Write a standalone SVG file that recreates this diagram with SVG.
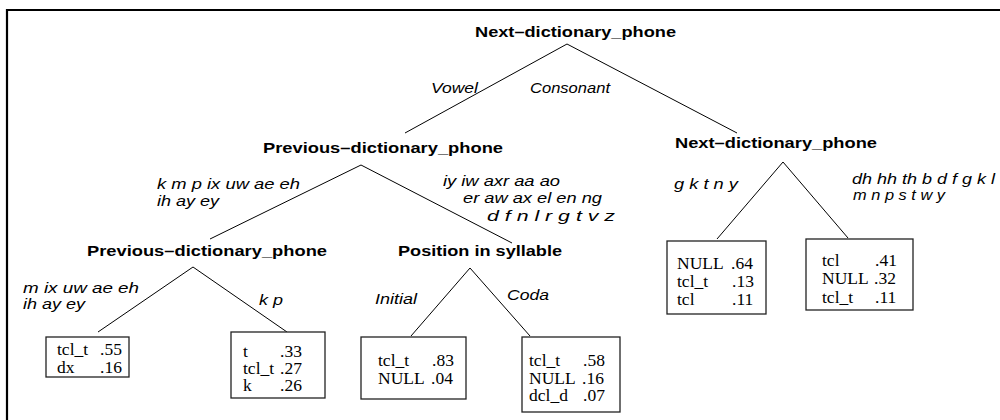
<svg xmlns="http://www.w3.org/2000/svg" width="1000" height="420" viewBox="0 0 1000 420">
<style>
.bold{font-family:"Liberation Sans",Arial,sans-serif;font-weight:bold;font-size:15px;fill:#000}
.it{font-family:"Liberation Sans",Arial,sans-serif;font-style:italic;font-size:14.5px;fill:#000}
.tm{font-family:"Liberation Serif","Times New Roman",serif;font-size:17.5px;fill:#000}
.edge{stroke:#000;stroke-width:1;fill:none}
.box{stroke:#222;stroke-width:1.3;fill:#fff}
</style>
<rect width="1000" height="420" fill="#fff"/>
<path d="M7,420 V10 H1000" stroke="#000" stroke-width="2.2" fill="none"/>
<g id="connectors">
<line class="edge" x1="567" y1="44" x2="405" y2="133"/>
<line class="edge" x1="567" y1="44" x2="737" y2="133"/>
<line class="edge" x1="361" y1="165" x2="210" y2="239"/>
<line class="edge" x1="361" y1="165" x2="512" y2="243"/>
<line class="edge" x1="783" y1="162" x2="717" y2="239"/>
<line class="edge" x1="783" y1="162" x2="848" y2="238"/>
<line class="edge" x1="193" y1="267" x2="98" y2="332"/>
<line class="edge" x1="193" y1="267" x2="287" y2="332"/>
<line class="edge" x1="470" y1="268" x2="411" y2="336"/>
<line class="edge" x1="470" y1="268" x2="530" y2="336"/>
<text class="it" x="431" y="93" textLength="47" lengthAdjust="spacingAndGlyphs">Vowel</text>
<text class="it" x="530" y="93" textLength="80" lengthAdjust="spacingAndGlyphs">Consonant</text>
<text class="it" x="157" y="189" textLength="143" lengthAdjust="spacingAndGlyphs">k m p ix uw ae eh</text>
<text class="it" x="157" y="206" textLength="62" lengthAdjust="spacingAndGlyphs">ih ay ey</text>
<text class="it" x="443" y="186" textLength="117" lengthAdjust="spacingAndGlyphs">iy iw axr aa ao</text>
<text class="it" x="463" y="203" textLength="139" lengthAdjust="spacingAndGlyphs">er aw ax el en ng</text>
<text class="it" x="487" y="221" textLength="128" lengthAdjust="spacingAndGlyphs">d f n l r  g t v z</text>
<text class="it" x="674" y="189" textLength="64" lengthAdjust="spacingAndGlyphs">g k t n y</text>
<text class="it" x="852" y="184" textLength="143" lengthAdjust="spacingAndGlyphs">dh hh th b d f g k l</text>
<text class="it" x="853" y="200" textLength="92" lengthAdjust="spacingAndGlyphs">m n p s t w y</text>
<text class="it" x="23" y="293" textLength="116" lengthAdjust="spacingAndGlyphs">m ix uw ae eh</text>
<text class="it" x="23" y="309" textLength="62" lengthAdjust="spacingAndGlyphs">ih ay ey</text>
<text class="it" x="259" y="305" textLength="24" lengthAdjust="spacingAndGlyphs">k p</text>
<text class="it" x="375" y="304" textLength="42" lengthAdjust="spacingAndGlyphs">Initial</text>
<text class="it" x="507" y="300" textLength="42" lengthAdjust="spacingAndGlyphs">Coda</text>
</g>
<g id="n-root"><text class="bold" x="475" y="37" textLength="201" lengthAdjust="spacingAndGlyphs">Next–dictionary_phone</text></g>
<g id="n-prev1"><text class="bold" x="263" y="153" textLength="240" lengthAdjust="spacingAndGlyphs">Previous–dictionary_phone</text></g>
<g id="n-next2"><text class="bold" x="675" y="148" textLength="202" lengthAdjust="spacingAndGlyphs">Next–dictionary_phone</text></g>
<g id="n-prev2"><text class="bold" x="87" y="256" textLength="240" lengthAdjust="spacingAndGlyphs">Previous–dictionary_phone</text></g>
<g id="n-pos"><text class="bold" x="398" y="256" textLength="164" lengthAdjust="spacingAndGlyphs">Position in syllable</text></g>
<g id="leaf1"><rect class="box" x="46" y="337" width="83" height="40"/>
<text class="tm" x="57" y="355">tcl_t</text><text class="tm" x="100" y="355">.55</text>
<text class="tm" x="57" y="373">dx</text><text class="tm" x="100" y="373">.16</text></g>
<g id="leaf2"><rect class="box" x="231" y="332" width="94" height="66"/>
<text class="tm" x="243" y="357">t</text><text class="tm" x="280" y="357">.33</text>
<text class="tm" x="243" y="374">tcl_t</text><text class="tm" x="280" y="374">.27</text>
<text class="tm" x="243" y="391">k</text><text class="tm" x="280" y="391">.26</text></g>
<g id="leaf3"><rect class="box" x="361" y="337" width="105" height="62"/>
<text class="tm" x="378" y="366">tcl_t</text><text class="tm" x="432" y="366">.83</text>
<text class="tm" x="378" y="384">NULL</text><text class="tm" x="431" y="384">.04</text></g>
<g id="leaf4"><rect class="box" x="522" y="337" width="98" height="75"/>
<text class="tm" x="529" y="366">tcl_t</text><text class="tm" x="583" y="366">.58</text>
<text class="tm" x="529" y="384">NULL</text><text class="tm" x="582" y="384">.16</text>
<text class="tm" x="529" y="401">dcl_d</text><text class="tm" x="583" y="401">.07</text></g>
<g id="leaf5"><rect class="box" x="667" y="241" width="99" height="73"/>
<text class="tm" x="677" y="269">NULL</text><text class="tm" x="731" y="269">.64</text>
<text class="tm" x="677" y="287">tcl_t</text><text class="tm" x="732" y="287">.13</text>
<text class="tm" x="677" y="305">tcl</text><text class="tm" x="732" y="305">.11</text></g>
<g id="leaf6"><rect class="box" x="806" y="239" width="107" height="71"/>
<text class="tm" x="822" y="266">tcl</text><text class="tm" x="875" y="266">.41</text>
<text class="tm" x="822" y="284">NULL</text><text class="tm" x="874" y="284">.32</text>
<text class="tm" x="822" y="303">tcl_t</text><text class="tm" x="875" y="303">.11</text></g>
</svg>
